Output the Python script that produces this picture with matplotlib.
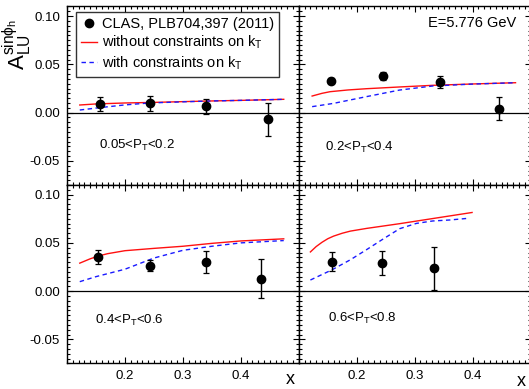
import matplotlib
matplotlib.use("Agg")
import matplotlib.pyplot as plt
from matplotlib.ticker import MultipleLocator, FixedLocator, FormatStrFormatter
from matplotlib.lines import Line2D

plt.rcParams["font.family"] = ["Liberation Sans", "DejaVu Sans"]
plt.rcParams["mathtext.fontset"] = "custom"
plt.rcParams["mathtext.rm"] = "Liberation Sans"
plt.rcParams["mathtext.it"] = "Liberation Sans:italic"
plt.rcParams["mathtext.default"] = "regular"
plt.rcParams["axes.unicode_minus"] = False

# CLAS data points, per P_T bin
pt_labels = ["0.05<P$_{T}$<0.2", "0.2<P$_{T}$<0.4",
             "0.4<P$_{T}$<0.6", "0.6<P$_{T}$<0.8"]

data_x = [
    [0.157, 0.243, 0.340, 0.447],
    [0.156, 0.245, 0.343, 0.445],
    [0.154, 0.244, 0.340, 0.434],
    [0.157, 0.243, 0.333],
]
data_y = [
    [0.0086, 0.0098, 0.0065, -0.0069],
    [0.0331, 0.0381, 0.0319, 0.0041],
    [0.0349, 0.0265, 0.0304, 0.0126],
    [0.0305, 0.0291, 0.0236],
]
data_err = [
    [0.0072, 0.0076, 0.0080, 0.0170],
    [0.0025, 0.0040, 0.0060, 0.0120],
    [0.0073, 0.0060, 0.0112, 0.0202],
    [0.0100, 0.0127, 0.0224],
]

# model curves: without constraints (red) and with constraints (blue)
red_x = [
    [0.122, 0.15, 0.20, 0.25, 0.30, 0.35, 0.40, 0.474],
    [0.123, 0.140, 0.154, 0.185, 0.217, 0.274, 0.331, 0.40, 0.474],
    [0.122, 0.140, 0.155, 0.17, 0.20, 0.25, 0.30, 0.35, 0.40, 0.474],
    [0.120, 0.130, 0.140, 0.150, 0.160, 0.175, 0.189, 0.217, 0.274, 0.331, 0.399],
]
red_y = [
    [0.0079, 0.0090, 0.0100, 0.0106, 0.0114, 0.0121, 0.0127, 0.0138],
    [0.0172, 0.0200, 0.0217, 0.0235, 0.0248, 0.0266, 0.0283, 0.0297, 0.0310],
    [0.0290, 0.0335, 0.0365, 0.0388, 0.0419, 0.0443, 0.0465, 0.0495, 0.0520, 0.0542],
    [0.0406, 0.0462, 0.0506, 0.0543, 0.0570, 0.0600, 0.0622, 0.0650, 0.0699, 0.0752, 0.0815],
]
blue_x = [
    [0.122, 0.157, 0.20, 0.242, 0.30, 0.35, 0.40, 0.474],
    [0.123, 0.160, 0.217, 0.274, 0.331, 0.40, 0.474],
    [0.122, 0.15, 0.20, 0.25, 0.30, 0.35, 0.40, 0.474],
    [0.120, 0.157, 0.189, 0.217, 0.246, 0.274, 0.303, 0.331, 0.360, 0.393],
]
blue_y = [
    [0.0027, 0.0052, 0.0080, 0.0100, 0.0112, 0.0121, 0.0127, 0.0138],
    [0.0062, 0.0096, 0.0166, 0.0234, 0.0276, 0.0296, 0.0310],
    [0.0098, 0.0150, 0.0227, 0.0343, 0.0423, 0.0465, 0.0500, 0.0524],
    [0.0115, 0.0220, 0.0325, 0.0430, 0.0542, 0.0647, 0.0702, 0.0727, 0.0737, 0.0755],
]

x_ticks = [0.2, 0.3, 0.4]
y_ticks = [-0.05, 0.0, 0.05, 0.10]

label_pos = [(0.139, 0.221), (0.113, 0.212), (0.121, 0.240), (0.127, 0.250)]

fig = plt.figure(figsize=(5.29, 3.89), dpi=100)
gs = fig.add_gridspec(2, 2, left=0.1267, right=1.003, top=0.9833, bottom=0.0656,
                      hspace=0, wspace=0)

for i in range(4):
    r, c = divmod(i, 2)
    ax = fig.add_subplot(gs[r, c])
    ax.set_xlim(0.1, 0.5)
    ax.set_ylim(-0.075, 0.11)
    ax.axhline(0, color="black", lw=0.9, zorder=1)

    ax.plot(red_x[i], red_y[i], color="#ff1010", lw=1.0, zorder=2)
    ax.plot(blue_x[i], blue_y[i], color="#1a1aff", lw=1.0, ls=(0, (3.2, 2.5)), zorder=2)
    ax.errorbar(data_x[i], data_y[i], yerr=data_err[i], fmt="o", color="black",
                ms=6, elinewidth=1.0, capsize=2, capthick=0.9, zorder=3)

    ax.xaxis.set_major_locator(FixedLocator(x_ticks))
    ax.xaxis.set_minor_locator(MultipleLocator(0.01))
    ax.yaxis.set_major_locator(FixedLocator(y_ticks))
    ax.yaxis.set_minor_locator(MultipleLocator(0.005))
    ax.yaxis.set_major_formatter(FormatStrFormatter("%.2f"))
    ax.xaxis.set_major_formatter(FormatStrFormatter("%.1f"))
    ax.tick_params(which="both", direction="in", top=True, right=True,
                   labelsize=9.5, width=0.8, pad=5)
    ax.tick_params(which="major", length=4.5)
    ax.tick_params(which="minor", length=2.5)
    if r == 0:
        ax.tick_params(labelbottom=False)
    if c == 1:
        ax.tick_params(labelleft=False)
    for sp in ax.spines.values():
        sp.set_linewidth(1.0)

    ax.text(label_pos[i][0], label_pos[i][1], pt_labels[i], transform=ax.transAxes,
            fontsize=9.5, va="center", ha="left")

    if i == 0:
        handles = [
            Line2D([], [], marker="o", ls="none", color="black", ms=6),
            Line2D([], [], color="#ff1010", lw=1.0),
            Line2D([], [], color="#1a1aff", lw=1.0, ls=(0, (3.2, 2.5))),
        ]
        labels = ["CLAS, PLB704,397 (2011)", "without constraints on k$_{T}$",
                  "with constraints on k$_{T}$"]
        leg = ax.legend(handles, labels, loc="upper left", bbox_to_anchor=(0.039, 0.971),
                        borderaxespad=0, fontsize=10.5, frameon=True, fancybox=False,
                        edgecolor="black", handlelength=1.1, handletextpad=0.3,
                        labelspacing=0.22, borderpad=0.35)
        leg.get_frame().set_linewidth(1.0)
    if i == 1:
        ax.text(0.938, 0.909, "E=5.776 GeV", transform=ax.transAxes,
                fontsize=10.5, ha="right", va="center")

fig.text(0.032, 0.885, r"$\mathrm{A}_{\mathrm{LU}}^{\mathrm{sin}\phi_{\mathrm{h}}}$",
         rotation=90, fontsize=16, ha="center", va="center")
fig.text(290 / 529, 1 - 380 / 389, "x", fontsize=13, ha="center", va="center")
fig.text(521 / 529, 1 - 381 / 389, "x", fontsize=13, ha="center", va="center")

fig.savefig("out.png", dpi=100)
